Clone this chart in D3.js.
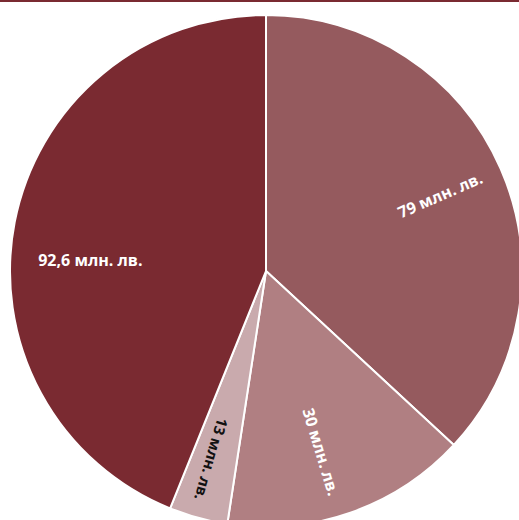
<!DOCTYPE html>
<html><head><meta charset="utf-8">
<script src="https://cdn.jsdelivr.net/npm/d3@7"></script>
<style>body{margin:0;background:#fff;}svg{display:block;}</style>
</head><body>
<script>
const categories = ["79 млн. лв.", "30 млн. лв.", "13 млн. лв.", "92,6 млн. лв."];
const values = [79, 30, 13, 92.6];
const sliceDegrees = [132.8, 55.9, 13.3, 158.0];
const colors = ["#955a5e", "#b07f82", "#c9aaad", "#7a2a31"];
const labelColors = ["#ffffff", "#ffffff", "#111111", "#ffffff"];

const W = 519, H = 520, cx = 266, cy = 271, R = 256;
const svg = d3.select("body").append("svg").attr("width", W).attr("height", H);
svg.append("rect").attr("x", 0).attr("y", 0).attr("width", W).attr("height", 2).attr("fill", "#7a2a31");

const pie = d3.pie().sort(null).value((d, i) => sliceDegrees[i])(values);
const arc = d3.arc().innerRadius(0).outerRadius(R);
const g = svg.append("g").attr("transform", `translate(${cx},${cy})`);
g.selectAll("path").data(pie).join("path")
  .attr("d", arc).attr("fill", (d, i) => colors[i])
  .attr("stroke", "#fff").attr("stroke-width", 2).attr("stroke-linejoin", "round");

const labelR = [190, 189, 196, 176];
const angleShift = [0, 0.04, 0.013, -0.13];
const fontSizes = [16, 16, 15, 16];
g.selectAll("text").data(pie).join("text")
  .attr("transform", (d, i) => {
    const a = (d.startAngle + d.endAngle) / 2 + angleShift[i];
    const x = labelR[i] * Math.sin(a), y = -labelR[i] * Math.cos(a);
    let rot = a * 180 / Math.PI - 90;
    if (i === 3) rot = 0;
    return `translate(${x},${y}) rotate(${rot})`;
  })
  .attr("text-anchor", "middle").attr("dominant-baseline", "central")
  .attr("font-family", "'Open Sans', sans-serif").attr("font-weight", 700)
  .attr("font-size", (d, i) => fontSizes[i])
  .attr("fill", (d, i) => labelColors[i])
  .text((d, i) => categories[i]);
</script>
</body></html>
